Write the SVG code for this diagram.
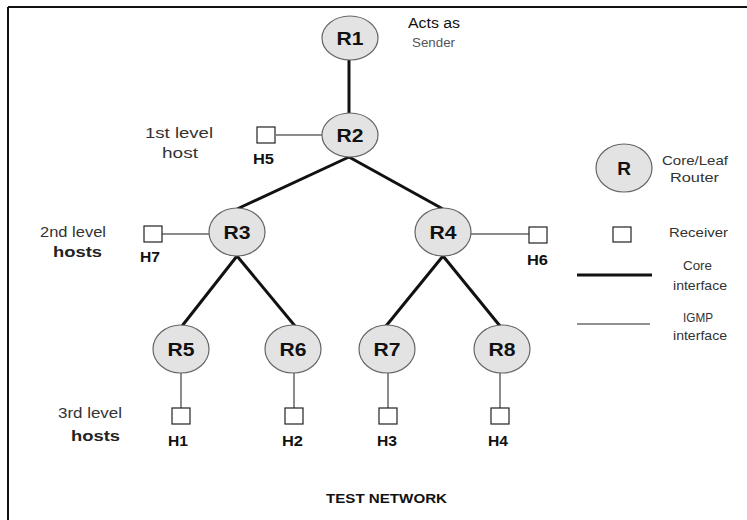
<svg xmlns="http://www.w3.org/2000/svg" width="747" height="520" viewBox="0 0 747 520">
<style>
text{font-family:"Liberation Sans",Arial,sans-serif}
.rt{fill:#e3e3e3;stroke:#666;stroke-width:1.2}
.rl{font-size:19px;font-weight:bold;fill:#111;text-anchor:middle}
.host{fill:#fff;stroke:#222;stroke-width:1.2}
.hl{font-size:14px;font-weight:bold;fill:#111}
.core{stroke:#111;stroke-width:3;fill:none}
.igmp{stroke:#666;stroke-width:1.5;fill:none}
.lab{font-size:14px;fill:#333}
.bl{font-size:15px;font-weight:bold;fill:#222}
.lg{font-size:13.5px;fill:#333}
</style>
<rect x="0" y="0" width="747" height="520" fill="#fff"/>
<path d="M8 7H747M8 7V520" stroke="#111" stroke-width="2" fill="none"/>
<g id="connectors">
<line class="core" x1="349" y1="60" x2="349" y2="113"/>
<line class="core" x1="349" y1="157" x2="237" y2="209"/>
<line class="core" x1="349" y1="157" x2="443" y2="209"/>
<line class="core" x1="237" y1="256" x2="182" y2="326"/>
<line class="core" x1="237" y1="256" x2="295" y2="326"/>
<line class="core" x1="443" y1="256" x2="386" y2="326"/>
<line class="core" x1="443" y1="256" x2="500" y2="326"/>
<line class="igmp" x1="276" y1="135" x2="322" y2="135"/>
<line class="igmp" x1="162" y1="234" x2="209" y2="234"/>
<line class="igmp" x1="471" y1="234" x2="529" y2="234"/>
<line class="igmp" x1="181" y1="373" x2="181" y2="408"/>
<line class="igmp" x1="294" y1="373" x2="294" y2="408"/>
<line class="igmp" x1="388" y1="373" x2="388" y2="408"/>
<line class="igmp" x1="500" y1="373" x2="500" y2="408"/>
</g>
<g id="R1"><ellipse class="rt" cx="350" cy="38" rx="28" ry="22"/><text class="rl" x="350" y="45" textLength="27" lengthAdjust="spacingAndGlyphs">R1</text></g>
<g id="R2"><ellipse class="rt" cx="350" cy="135" rx="28" ry="22"/><text class="rl" x="350" y="142" textLength="27" lengthAdjust="spacingAndGlyphs">R2</text></g>
<g id="R3"><ellipse class="rt" cx="237" cy="232" rx="28" ry="24"/><text class="rl" x="237" y="239" textLength="27" lengthAdjust="spacingAndGlyphs">R3</text></g>
<g id="R4"><ellipse class="rt" cx="443" cy="232" rx="28" ry="24"/><text class="rl" x="443" y="239" textLength="27" lengthAdjust="spacingAndGlyphs">R4</text></g>
<g id="R5"><ellipse class="rt" cx="181" cy="349" rx="28" ry="24"/><text class="rl" x="181" y="356" textLength="27" lengthAdjust="spacingAndGlyphs">R5</text></g>
<g id="R6"><ellipse class="rt" cx="293" cy="349" rx="28" ry="24"/><text class="rl" x="293" y="356" textLength="27" lengthAdjust="spacingAndGlyphs">R6</text></g>
<g id="R7"><ellipse class="rt" cx="387" cy="349" rx="28" ry="24"/><text class="rl" x="387" y="356" textLength="27" lengthAdjust="spacingAndGlyphs">R7</text></g>
<g id="R8"><ellipse class="rt" cx="502" cy="349" rx="28" ry="24"/><text class="rl" x="502" y="356" textLength="27" lengthAdjust="spacingAndGlyphs">R8</text></g>
<g id="H5"><rect class="host" x="257" y="127" width="18" height="16"/><text class="hl" x="253" y="164" textLength="21" lengthAdjust="spacingAndGlyphs">H5</text></g>
<g id="H7"><rect class="host" x="144" y="226" width="18" height="16"/><text class="hl" x="140" y="262" textLength="20" lengthAdjust="spacingAndGlyphs">H7</text></g>
<g id="H6"><rect class="host" x="529" y="227" width="18" height="16"/><text class="hl" x="527" y="265" textLength="21" lengthAdjust="spacingAndGlyphs">H6</text></g>
<g id="H1"><rect class="host" x="172" y="408" width="18" height="16"/><text class="hl" x="168" y="446" textLength="20" lengthAdjust="spacingAndGlyphs">H1</text></g>
<g id="H2"><rect class="host" x="285" y="408" width="18" height="16"/><text class="hl" x="282" y="446" textLength="21" lengthAdjust="spacingAndGlyphs">H2</text></g>
<g id="H3"><rect class="host" x="379" y="408" width="18" height="16"/><text class="hl" x="377" y="446" textLength="20" lengthAdjust="spacingAndGlyphs">H3</text></g>
<g id="H4"><rect class="host" x="491" y="408" width="18" height="16"/><text class="hl" x="488" y="446" textLength="20" lengthAdjust="spacingAndGlyphs">H4</text></g>
<g id="labels">
<text x="408" y="28" font-size="14" fill="#111" textLength="52" lengthAdjust="spacingAndGlyphs">Acts as</text>
<text x="412" y="47" font-size="13.5" fill="#555" textLength="43" lengthAdjust="spacingAndGlyphs">Sender</text>
<text class="lab" x="145" y="138" textLength="68" lengthAdjust="spacingAndGlyphs">1st level</text>
<text class="lab" x="162" y="158" textLength="36" lengthAdjust="spacingAndGlyphs">host</text>
<text class="lab" x="40" y="237" textLength="66" lengthAdjust="spacingAndGlyphs">2nd level</text>
<text class="bl" x="53" y="257" textLength="49" lengthAdjust="spacingAndGlyphs">hosts</text>
<text class="lab" x="58" y="418" textLength="64" lengthAdjust="spacingAndGlyphs">3rd level</text>
<text class="bl" x="71" y="441" textLength="49" lengthAdjust="spacingAndGlyphs">hosts</text>
<text x="326" y="503" font-size="13.5" font-weight="bold" fill="#111" textLength="121" lengthAdjust="spacingAndGlyphs">TEST NETWORK</text>
</g>
<g id="legend">
<ellipse class="rt" cx="624" cy="168" rx="28" ry="24"/><text class="rl" x="624" y="175">R</text>
<text class="lg" x="662" y="165" textLength="66" lengthAdjust="spacingAndGlyphs">Core/Leaf</text>
<text class="lg" x="670" y="182" textLength="49" lengthAdjust="spacingAndGlyphs">Router</text>
<rect class="host" x="613" y="227" width="18" height="15"/>
<text class="lg" x="669" y="237" textLength="59" lengthAdjust="spacingAndGlyphs">Receiver</text>
<line x1="577" y1="275" x2="652" y2="275" stroke="#111" stroke-width="3"/>
<text class="lg" x="683" y="270" textLength="29" lengthAdjust="spacingAndGlyphs">Core</text>
<text class="lg" x="673" y="290" textLength="54" lengthAdjust="spacingAndGlyphs">interface</text>
<line x1="577" y1="324" x2="650" y2="324" stroke="#222" stroke-width="1.2"/>
<text class="lg" x="683" y="322" textLength="30" lengthAdjust="spacingAndGlyphs">IGMP</text>
<text class="lg" x="673" y="340" textLength="54" lengthAdjust="spacingAndGlyphs">interface</text>
</g>
</svg>
